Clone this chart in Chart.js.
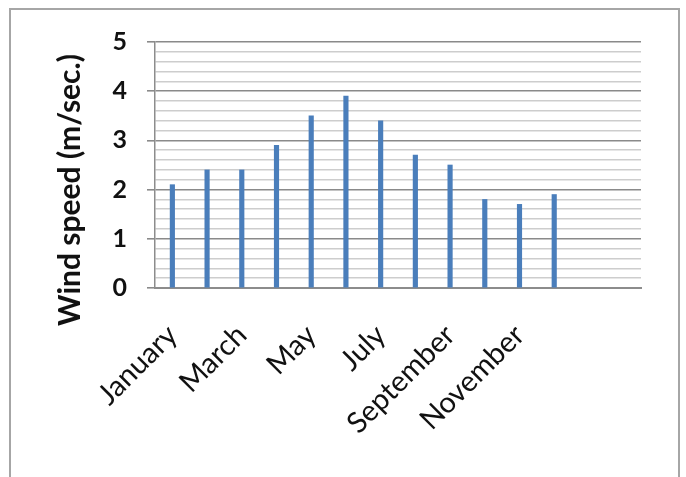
<!DOCTYPE html>
<html>
<head>
<meta charset="utf-8">
<script src="https://cdn.jsdelivr.net/npm/chart.js@4/dist/chart.umd.min.js"></script>
<style>
  html, body { margin: 0; padding: 0; background: #fff; }
  #wrap { position: relative; width: 686px; height: 477px; overflow: hidden; }
  #frame { position: absolute; left: 9px; top: 8px; width: 671px; height: 480px;
           border: 2px solid #a6a6a6; border-bottom: none; box-sizing: border-box; }
  canvas { position: absolute; left: 0; top: 0; }
</style>
</head>
<body>
<div id="wrap">
  <div id="frame"></div>
  <canvas id="chart" width="686" height="477"></canvas>
</div>
<script>
// Monthly mean wind speed (m/sec.)
const months = ['January', 'February', 'March', 'April', 'May', 'June',
                'July', 'August', 'September', 'October', 'November', 'December'];
const windSpeed = [2.1, 2.4, 2.4, 2.9, 3.5, 3.9, 3.4, 2.7, 2.5, 1.8, 1.7, 1.9];
// two spare slots keep the empty space at the right of the axis
const categories = [...months, '', ''];
const values = [...windSpeed, null, null];
const yTitle = 'Wind speed (m/sec.)';
const yMin = 0, yMax = 5, yStep = 0.2;

const FONT = 'Lato, "Open Sans", sans-serif';

const isMajor = v => Math.abs(v - Math.round(v)) < 1e-6;

const yTitlePlugin = {
  id: 'yTitle',
  afterDraw(chart) {
    const ctx = chart.ctx;
    ctx.save();
    ctx.translate(70, 190);
    ctx.rotate(-Math.PI / 2);
    ctx.font = 'bold 30px ' + FONT;
    ctx.fillStyle = '#111';
    ctx.textAlign = 'center';
    ctx.textBaseline = 'middle';
    ctx.fillText(yTitle, 0, 0);
    ctx.restore();
  }
};

new Chart(document.getElementById('chart'), {
  type: 'bar',
  data: {
    labels: categories,
    datasets: [{
      data: values,
      backgroundColor: '#4a7ebb',
      barThickness: 4.5
    }]
  },
  plugins: [yTitlePlugin],
  options: {
    responsive: false,
    animation: false,
    layout: { padding: { left: 0, top: 42, right: 45, bottom: 0 } },
    plugins: { legend: { display: false }, tooltip: { enabled: false } },
    scales: {
      x: {
        grid: { display: false },
        border: { display: true, color: '#8c8c8c', width: 2 },
        ticks: {
          autoSkip: false,
          minRotation: 45,
          maxRotation: 45,
          padding: 22,
          color: '#111',
          font: { family: FONT, size: 29 },
          callback: (v, i) => (i % 2 === 0 ? categories[i] : '')
        },
        afterFit: s => { s.height = 189; }
      },
      y: {
        min: yMin,
        max: yMax,
        ticks: {
          stepSize: yStep,
          maxTicksLimit: 100,
          autoSkip: false,
          padding: 20,
          color: '#111',
          font: { family: FONT, size: 25, weight: 'bold' },
          callback: v => (isMajor(v) ? String(Math.round(v)) : '')
        },
        grid: {
          color: c => (isMajor(c.tick.value) ? '#8a8a8a' : '#cdcdcd'),
          lineWidth: 1.6,
          tickColor: c => (isMajor(c.tick.value) ? '#8a8a8a' : 'rgba(0,0,0,0)'),
          tickLength: 8
        },
        border: { display: true, color: '#8c8c8c', width: 1.5 },
        afterFit: s => { s.width = 155; }
      }
    }
  }
});
</script>
</body>
</html>
